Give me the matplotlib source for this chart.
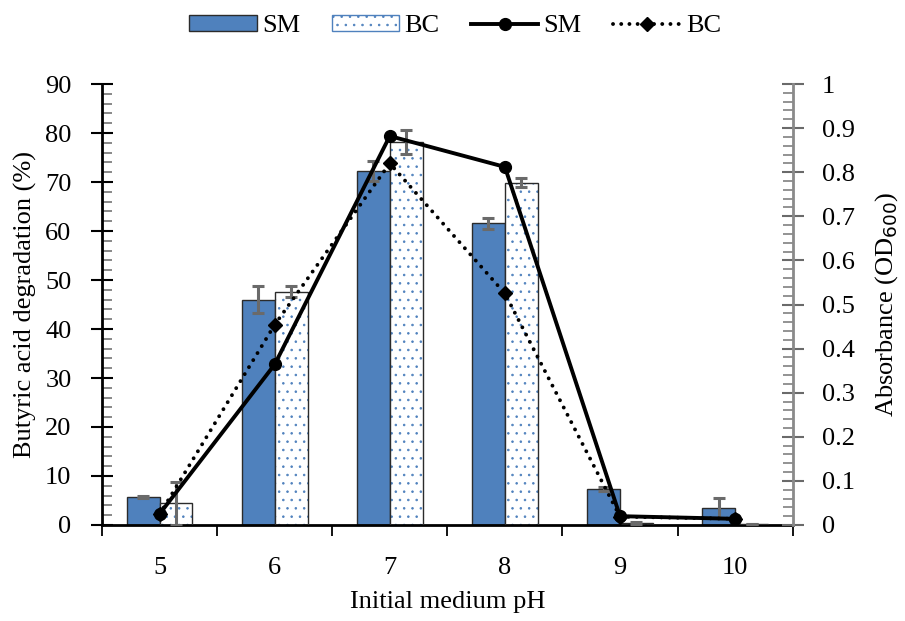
import matplotlib
matplotlib.use("Agg")
import matplotlib.pyplot as plt
import numpy as np
from matplotlib.patches import Patch
from matplotlib.lines import Line2D

plt.rcParams['font.family'] = ['Liberation Serif', 'DejaVu Serif']
plt.rcParams['hatch.linewidth'] = 0.6

ph = [5, 6, 7, 8, 9, 10]
ph_labels = ['5', '6', '7', '8', '9', '10']
deg_sm = [5.8, 46.0, 72.3, 61.6, 7.3, 3.5]
deg_sm_err = [0.2, 2.8, 2.0, 1.1, 0.4, 2.0]
deg_bc = [4.4, 47.6, 78.2, 69.9, 0.35, 0.2]
deg_bc_err = [4.4, 1.1, 2.4, 0.9, 0.3, 0.05]
od_sm = [0.025, 0.364, 0.882, 0.812, 0.020, 0.014]
od_bc = [0.024, 0.454, 0.820, 0.525, 0.019, 0.014]

blue = '#4F81BD'
gray = '#6a6a6a'
FS = 19
DOT = (0, (0.01, 2.1))

fig = plt.figure(figsize=(9.05, 6.21), dpi=100)
ax = fig.add_axes([0.1127, 0.1546, 0.7632, 0.7101])

x = np.array(ph, dtype=float)
w = 0.286
ax.bar(x - w/2, deg_sm, width=w, color=blue, edgecolor='#2b2b2b', linewidth=1.0, zorder=2)
# BC: white bars with blue dot hatch, then outline
ax.bar(x + w/2, deg_bc, width=w, color='white', edgecolor=blue, hatch='..', linewidth=0, zorder=2)
ax.bar(x + w/2, deg_bc, width=w, color='none', edgecolor='#2b2b2b', linewidth=1.0, zorder=3)
ax.errorbar(x - w/2, deg_sm, yerr=deg_sm_err, fmt='none', ecolor=gray, elinewidth=2.2,
            capsize=4.4, capthick=2.2, zorder=4)
ax.errorbar(x + w/2, deg_bc, yerr=deg_bc_err, fmt='none', ecolor=gray, elinewidth=2.2,
            capsize=4.4, capthick=2.2, zorder=4)

ax.set_xlim(4.5, 10.5)
ax.set_ylim(0, 90)
ax.set_yticks(np.arange(0, 91, 10))
ax.set_yticks(np.arange(0, 91, 2), minor=True)
ax.set_xticks(np.arange(4.5, 10.6, 1.0))
ax.set_xticklabels([])
ax.set_xticks(x, minor=True)
ax.set_xticklabels(ph_labels, minor=True)
ax.tick_params(axis='x', which='major', direction='out', length=8, width=1.3, color='black')
ax.tick_params(axis='x', which='minor', length=0, pad=23, labelsize=FS)
ax.tick_params(axis='y', which='major', direction='inout', length=16, width=1.5, color='black',
               pad=14, labelsize=FS)
ax.tick_params(axis='y', which='minor', direction='in', length=7, width=1.3, color='#7f7f7f')

for s in ['top', 'right']:
    ax.spines[s].set_visible(False)
ax.spines['left'].set_linewidth(2.0)
ax.spines['bottom'].set_linewidth(2.0)
ax.set_xlabel('Initial medium pH', fontsize=FS, labelpad=9)
ax.set_ylabel('Butyric acid degradation (%)', fontsize=FS, labelpad=6)

ax2 = ax.twinx()
ax2.plot(x, od_sm, color='black', linewidth=2.8, marker='o', markersize=8.5, zorder=5)
ax2.plot(x, od_bc, color='black', linewidth=2.8, linestyle=DOT,
         dash_capstyle='round', marker='D', markersize=7.5, zorder=5)
ax2.set_ylim(0, 1)
ax2.set_yticks(np.arange(0, 1.01, 0.1))
ax2.set_yticklabels(['0', '0.1', '0.2', '0.3', '0.4', '0.5', '0.6', '0.7', '0.8', '0.9', '1'])
ax2.set_yticks(np.arange(0, 1.001, 0.02), minor=True)
ax2.tick_params(axis='y', which='major', direction='inout', length=16, width=1.5, color=gray,
                pad=13, labelsize=FS)
ax2.tick_params(axis='y', which='minor', direction='in', length=7, width=1.3, color='#8a8a8a')
for s in ['top', 'left', 'bottom']:
    ax2.spines[s].set_visible(False)
ax2.spines['right'].set_color('#8a8a8a')
ax2.spines['right'].set_linewidth(2.0)
ax2.set_ylabel('Absorbance (OD$_{600}$)', fontsize=FS, labelpad=13)

handles = [
    Patch(facecolor=blue, edgecolor='#2b2b2b', linewidth=1.0),
    Patch(facecolor='white', edgecolor=blue, hatch='..', linewidth=1.0),
    Line2D([], [], color='black', linewidth=2.8, marker='o', markersize=8.5),
    Line2D([], [], color='black', linewidth=2.8, linestyle=DOT,
           dash_capstyle='round', marker='D', markersize=7.5),
]
labels = ['SM', 'BC', 'SM', 'BC']
leg = fig.legend(handles, labels, loc='center', bbox_to_anchor=(0.503, 0.958), ncol=4,
                 frameon=False, fontsize=FS, handlelength=2.55, handleheight=0.6,
                 handletextpad=0.2, columnspacing=1.2)

fig.savefig('out.png', dpi=100)
